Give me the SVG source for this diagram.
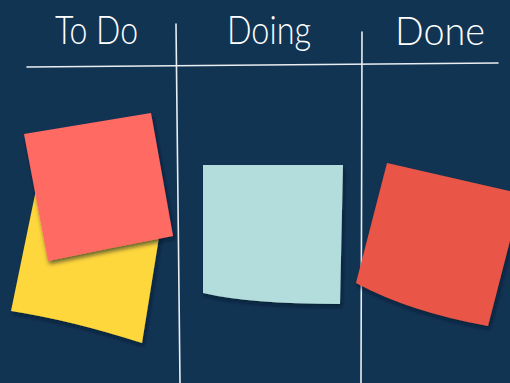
<svg xmlns="http://www.w3.org/2000/svg" width="510" height="383" viewBox="0 0 510 383">
  <defs>
    <filter id="shadow" x="-20%" y="-20%" width="140%" height="140%">
      <feDropShadow dx="1.5" dy="3" stdDeviation="2.2" flood-color="#061626" flood-opacity="0.6"/>
    </filter>
  </defs>
  <style>
    .line { fill: none; stroke: #e9eef2; stroke-width: 1.6; stroke-linecap: round; }
    .head { font-family: Lato, "Open Sans", "DejaVu Sans", sans-serif; font-weight: 300; font-size: 40px; fill: #ffffff; }
    .note { filter: url(#shadow); }
  </style>
  <rect width="510" height="383" fill="#123453"/>

  <g id="board">
    <path class="line" d="M27,67 C150,66 300,65 498,63"/>
    <path class="line" d="M176,24 C178,140 179,260 180,383"/>
    <path class="line" d="M362,32 C362,150 361,260 361,383"/>
  </g>

  <g id="headers">
    <text class="head" x="55" y="44" textLength="83" lengthAdjust="spacingAndGlyphs">To Do</text>
    <text class="head" x="227" y="44" textLength="84" lengthAdjust="spacingAndGlyphs">Doing</text>
    <text class="head" x="395" y="45" textLength="90" lengthAdjust="spacingAndGlyphs">Done</text>
  </g>

  <g id="note-yellow">
    <path class="note" fill="#FED73D" d="M37,185 L164,206 L142,343 Q70,320 11,311 Z"/>
  </g>
  <g id="note-pink">
    <path class="note" fill="#FF6B64" d="M24,134 L151,113 L173,236 Q110,248 48,261 Z"/>
  </g>
  <g id="note-teal">
    <path class="note" fill="#B3DCDD" d="M203,165 L343,165 L340,304 Q250,304 203,293 Z"/>
  </g>
  <g id="note-red">
    <path class="note" fill="#E95647" d="M387,163 L522,194 L488,326 Q410,312 356,283 Z"/>
  </g>
</svg>
